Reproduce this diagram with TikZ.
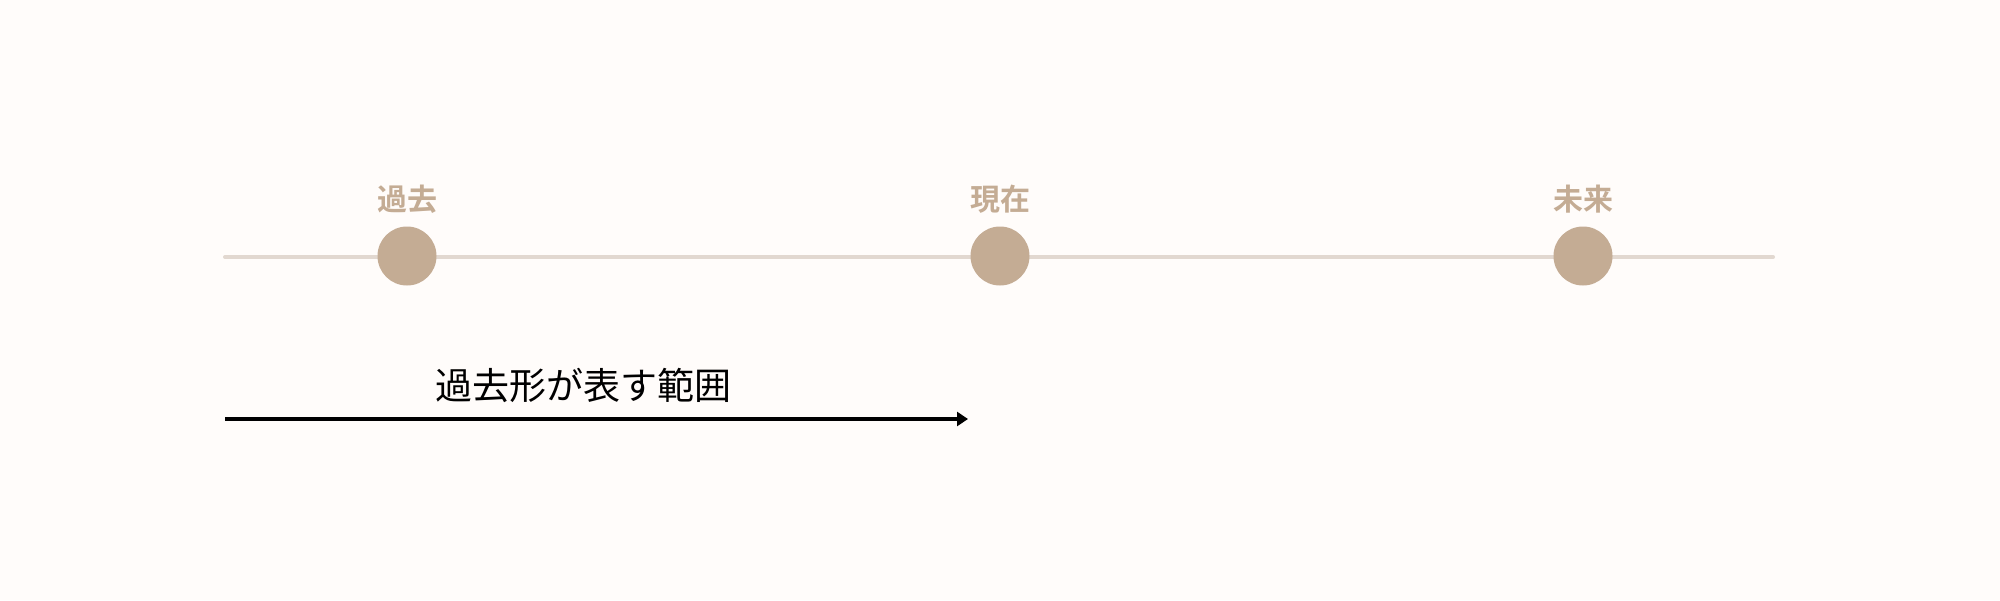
\documentclass[tikz,border=0pt]{standalone}
\usepackage{fontspec}
\newfontfamily\cjk{Noto Sans CJK JP}
\newfontfamily\cjkbold{Noto Sans CJK JP Bold}
\usetikzlibrary{arrows.meta}
\definecolor{bgc}{HTML}{FFFCFA}
\definecolor{dotc}{HTML}{C4AC94}
\definecolor{linec}{HTML}{E2D8D0}
\tikzset{
  dot/.style={circle,fill=dotc,draw=none,minimum size=59pt,inner sep=0pt},
  timelabel/.style={font=\cjkbold\fontsize{30}{36}\selectfont,text=dotc,anchor=base,inner sep=0pt},
  rangelabel/.style={font=\cjk\fontsize{37}{44}\selectfont,text=black,anchor=base,inner sep=0pt},
}
\begin{document}
\begin{tikzpicture}[x=1pt,y=-1pt]
\fill[bgc] (0,0) rectangle (2000,600);
\useasboundingbox (0,0) rectangle (2000,600);
\coordinate (ls) at (225,257);
\coordinate (le) at (1773,257);
\draw[linec,line width=4pt,line cap=round] (ls) -- (le);
\node[dot] (past) at (407,256) {};
\node[dot] (now) at (1000,256) {};
\node[dot] (future) at (1583,256) {};
\node[timelabel] (lpast) at (407,210) {過去};
\node[timelabel] (lnow) at (1000,210) {現在};
\node[timelabel] (lfuture) at (1583,210) {未来};
\coordinate (as) at (225,419);
\coordinate (ae) at (968,419);
\draw[line width=4.5pt,-{Triangle[length=11pt,width=14pt]}] (as) -- (ae);
\node[rangelabel] (range) at (583,399) {過去形が表す範囲};
\end{tikzpicture}
\end{document}
